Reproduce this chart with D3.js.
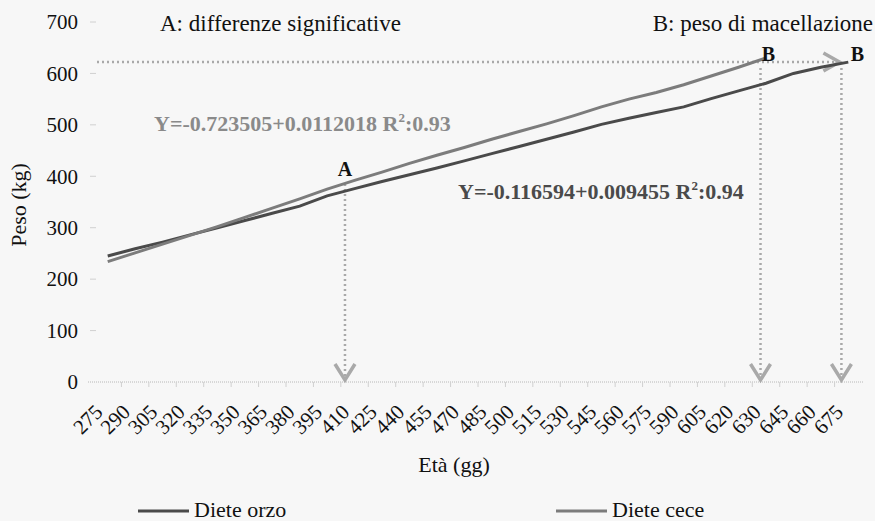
<!DOCTYPE html>
<html lang="it">
<head>
<meta charset="UTF-8">
<title>Peso vs Età</title>
<script src="https://d3js.org/d3.v7.min.js"></script>
<style>
    body { margin: 0; background: #f7f7f7; }
</style>
</head>
<body>
<div id="chart"></div>
<script>
    var width = 875;
    var height = 521;

    // categories on the x axis (Età, gg)
    var categories = ["275", "290", "305", "320", "335", "350", "365", "380", "395", "410",
        "425", "440", "455", "470", "485", "500", "515", "530", "545", "560",
        "575", "590", "605", "620", "630", "645", "660", "675"];

    // Peso (kg)
    var orzo = [245, 259, 272, 286, 300, 314, 328, 342, 362, 376,
        390, 403, 416, 430, 444, 458, 472, 486, 501, 513,
        524, 535, 551, 566, 581, 600, 612, 622];
    var cece = [234, 251, 268, 285, 302, 320, 338, 356, 375, 392,
        408, 425, 441, 456, 472, 487, 502, 518, 535, 550,
        563, 578, 595, 612, 630];

    var yTicks = [0, 100, 200, 300, 400, 500, 600, 700];

    var serif = "'Liberation Serif', 'Times New Roman', Times, serif";

    var svg = d3.select("#chart").append("svg")
        .attr("width", width)
        .attr("height", height)
        .style("font-family", serif);

    svg.append("rect")
        .attr("width", width).attr("height", height)
        .attr("fill", "#f7f7f7");

    var x = d3.scaleBand().domain(categories).range([94, 862]);
    var y = d3.scaleLinear().domain([0, 700]).range([382, 22]);

    function cx(c) { return x(c) + x.bandwidth() / 2; }
    function at(c, f) { return x(c) + f * x.bandwidth(); }

    // y axis labels + small ticks
    var gy = svg.append("g");
    gy.selectAll("text").data(yTicks).join("text")
        .attr("x", 78)
        .attr("y", function (d) { return y(d); })
        .attr("dy", "0.35em")
        .attr("text-anchor", "end")
        .attr("fill", "#111")
        .style("font-size", "21px")
        .text(function (d) { return d; });
    gy.selectAll("line").data(yTicks.slice(1)).join("line")
        .attr("x1", 90).attr("x2", 96)
        .attr("y1", function (d) { return y(d); })
        .attr("y2", function (d) { return y(d); })
        .attr("stroke", "#d0d0d0");

    // x axis line and ticks
    svg.append("line")
        .attr("x1", 88).attr("x2", 864)
        .attr("y1", y(0)).attr("y2", y(0))
        .attr("stroke", "#b8b8b8")
        .attr("stroke-dasharray", "1,1");
    svg.append("g").selectAll("line").data(categories.slice(1)).join("line")
        .attr("x1", function (d) { return x(d); })
        .attr("x2", function (d) { return x(d); })
        .attr("y1", y(0)).attr("y2", y(0) + 5)
        .attr("stroke", "#d0d0d0");

    svg.append("g").selectAll("text").data(categories).join("text")
        .attr("transform", function (d) { return "translate(" + (cx(d) - 9) + "," + 408 + ") rotate(-45)"; })
        .attr("text-anchor", "end")
        .attr("dy", "0.35em")
        .attr("fill", "#111")
        .style("font-size", "21px")
        .text(function (d) { return d; });

    // axis titles
    svg.append("text")
        .attr("transform", "translate(26,205) rotate(-90)")
        .attr("text-anchor", "middle")
        .attr("fill", "#111")
        .style("font-size", "22px")
        .text("Peso (kg)");
    svg.append("text")
        .attr("x", 454).attr("y", 472)
        .attr("text-anchor", "middle")
        .attr("fill", "#111")
        .style("font-size", "22px")
        .text("Età (gg)");

    // annotation dotted lines
    var dotCol = "#a9a9a9";
    var ann = svg.append("g")
        .attr("fill", "none")
        .attr("stroke", dotCol);

    ann.append("line")
        .attr("x1", 97).attr("x2", at("675", 0.15))
        .attr("y1", 62).attr("y2", 62)
        .attr("stroke-width", 2.5)
        .attr("stroke-dasharray", "2,3");

    var arrows = [
        { c: "410", f: 0.15, top: 184 },
        { c: "630", f: 0.3, top: 68 },
        { c: "675", f: 0.25, top: 68 }
    ];
    arrows.forEach(function (a) {
        var ax = at(a.c, a.f);
        ann.append("line")
            .attr("x1", ax).attr("x2", ax)
            .attr("y1", a.top).attr("y2", y(0) - 4)
            .attr("stroke-width", 2.5)
            .attr("stroke-dasharray", "2,3");
        ann.append("path")
            .attr("d", "M" + (ax - 10) + "," + (y(0) - 18) + "L" + ax + "," + (y(0) - 2) + "L" + (ax + 10) + "," + (y(0) - 18))
            .attr("stroke-width", 3.5);
    });
    var hx = at("675", 0.25);
    ann.append("path")
        .attr("d", "M" + (hx - 18) + "," + 53 + "L" + (hx - 2) + "," + 62 + "L" + (hx - 18) + "," + 71)
        .attr("stroke-width", 3.5);

    // series lines
    var line = d3.line()
        .x(function (d, i) { return cx(categories[i]); })
        .y(function (d) { return y(d); });

    svg.append("path").datum(orzo)
        .attr("d", line)
        .attr("fill", "none")
        .attr("stroke", "#4a4a4a")
        .attr("stroke-width", 3);
    svg.append("path").datum(cece)
        .attr("d", line)
        .attr("fill", "none")
        .attr("stroke", "#7c7c7c")
        .attr("stroke-width", 3);

    // annotation labels
    svg.append("text").attr("x", 160).attr("y", 31)
        .attr("fill", "#111")
        .style("font-size", "23px")
        .text("A: differenze significative");
    svg.append("text").attr("x", 873).attr("y", 31)
        .attr("text-anchor", "end")
        .attr("fill", "#111")
        .style("font-size", "23px")
        .text("B: peso di macellazione");

    svg.append("text").attr("x", at("410", 0.15)).attr("y", 176)
        .attr("text-anchor", "middle")
        .attr("fill", "#111")
        .style("font-size", "20px").style("font-weight", "bold")
        .text("A");
    svg.append("text").attr("x", at("630", 0.3) + 8).attr("y", 61)
        .attr("text-anchor", "middle")
        .attr("fill", "#111")
        .style("font-size", "20px").style("font-weight", "bold")
        .text("B");
    svg.append("text").attr("x", at("675", 0.25) + 16).attr("y", 61)
        .attr("text-anchor", "middle")
        .attr("fill", "#111")
        .style("font-size", "20px").style("font-weight", "bold")
        .text("B");

    // regression equations
    var eq1 = svg.append("text").attr("x", 154).attr("y", 131)
        .style("font-size", "22px").style("font-weight", "bold")
        .attr("fill", "#8a8a8a");
    eq1.append("tspan").text("Y=-0.723505+0.0112018  R");
    eq1.append("tspan").attr("dy", -9).style("font-size", "13px").text("2");
    eq1.append("tspan").attr("dy", 9).text(":0.93");

    var eq2 = svg.append("text").attr("x", 458).attr("y", 199)
        .style("font-size", "22px").style("font-weight", "bold")
        .attr("fill", "#4a4a4a");
    eq2.append("tspan").text("Y=-0.116594+0.009455  R");
    eq2.append("tspan").attr("dy", -9).style("font-size", "13px").text("2");
    eq2.append("tspan").attr("dy", 9).text(":0.94");

    // legend
    var legend = [
        { name: "Diete orzo", color: "#4a4a4a", x: 138 },
        { name: "Diete cece", color: "#7c7c7c", x: 556 }
    ];
    var lg = svg.append("g").selectAll("g").data(legend).join("g")
        .attr("transform", function (d) { return "translate(" + d.x + ",511)"; });
    lg.append("line")
        .attr("x1", 0).attr("x2", 51)
        .attr("stroke", function (d) { return d.color; })
        .attr("stroke-width", 3);
    lg.append("text")
        .attr("x", 56).attr("y", 6)
        .attr("fill", "#111")
        .style("font-size", "22px")
        .text(function (d) { return d.name; });
</script>
</body>
</html>
